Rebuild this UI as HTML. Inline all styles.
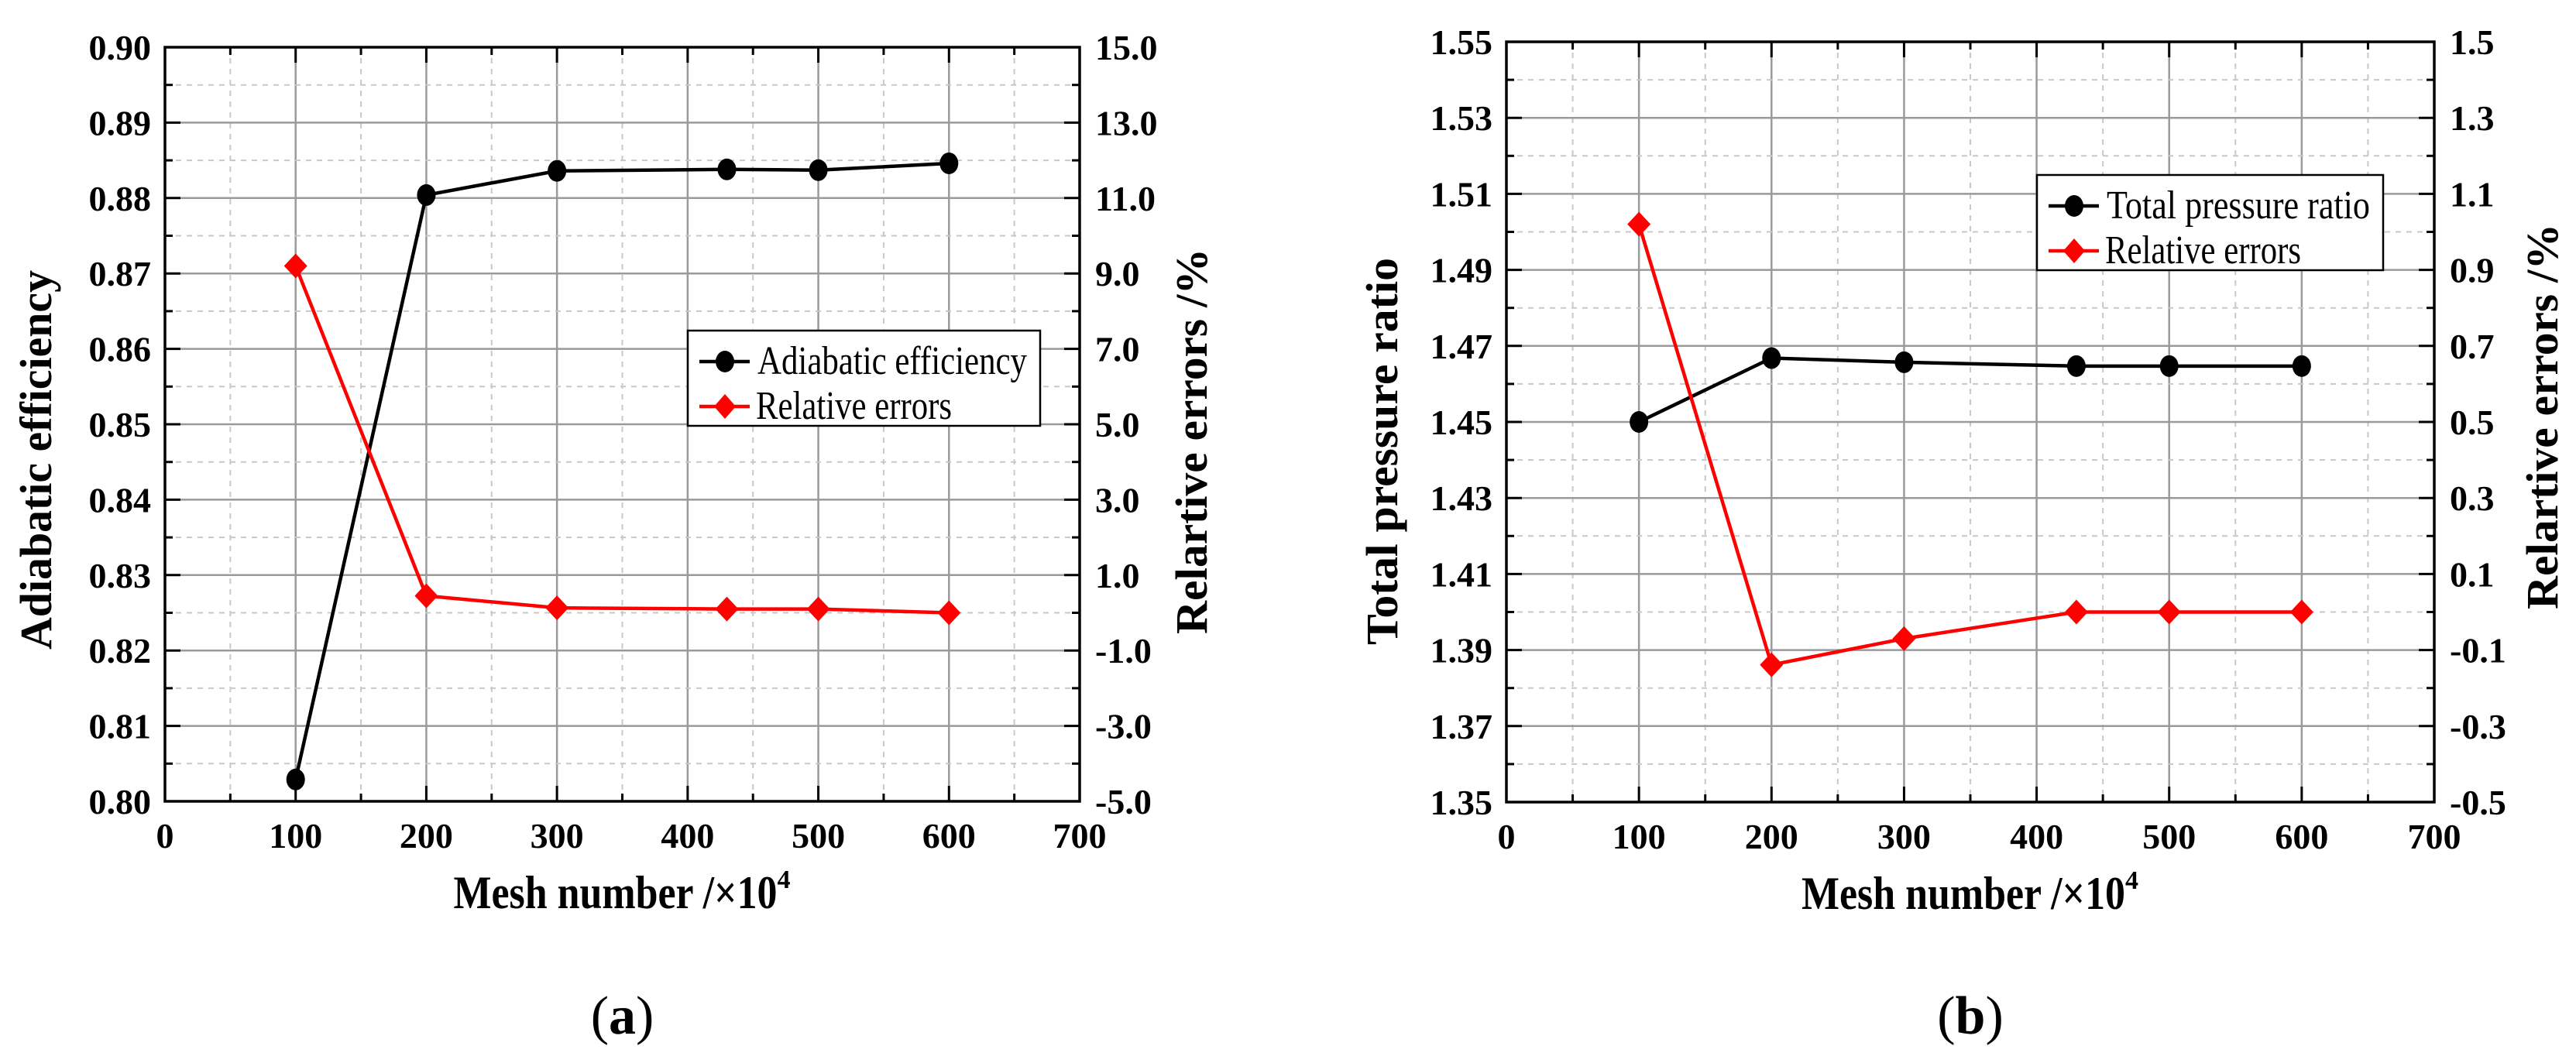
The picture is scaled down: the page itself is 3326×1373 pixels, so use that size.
<!DOCTYPE html>
<html><head><meta charset="utf-8">
<style>
html,body{margin:0;padding:0;background:#fff;}
svg{display:block;font-family:"Liberation Serif",serif;}
</style></head>
<body>
<svg id="fig" width="3326" height="1373" viewBox="0 0 3326 1373" xmlns="http://www.w3.org/2000/svg"></svg>
<script>
// ---- data (a) ----
const meshA = [100, 200, 300, 430, 500, 600];
const efficiencyA = [0.8029, 0.8804, 0.8836, 0.8838, 0.8837, 0.8846];
const errorsA = [9.2, 0.45, 0.13, 0.1, 0.1, 0.0];
const leftTicksA = ["0.80","0.81","0.82","0.83","0.84","0.85","0.86","0.87","0.88","0.89","0.90"];
const rightTicksA = ["-5.0","-3.0","-1.0","1.0","3.0","5.0","7.0","9.0","11.0","13.0","15.0"];
// ---- data (b) ----
const meshB = [100, 200, 300, 430, 500, 600];
const pressureB = [1.450, 1.4668, 1.4657, 1.4647, 1.4647, 1.4647];
const errorsB = [1.02, -0.139, -0.07, 0.0, 0.0, 0.0];
const leftTicksB = ["1.35","1.37","1.39","1.41","1.43","1.45","1.47","1.49","1.51","1.53","1.55"];
const rightTicksB = ["-0.5","-0.3","-0.1","0.1","0.3","0.5","0.7","0.9","1.1","1.3","1.5"];
const xTicks = ["0","100","200","300","400","500","600","700"];

const NS = "http://www.w3.org/2000/svg";
const svg = document.getElementById('fig');
function el(tag, attrs, parent, text){
  const e = document.createElementNS(NS, tag);
  for (const k in attrs) e.setAttribute(k, attrs[k]);
  if (text !== undefined) e.textContent = text;
  (parent || svg).appendChild(e);
  return e;
}

function drawChart(c){
  const g = el('g', {});
  
  
  const L=c.L, R=c.R, T=c.T, B=c.B;
  const xs = v => L + (v - 0) / 700 * (R - L);
  const yl = v => B - (v - c.lmin) / (c.lmax - c.lmin) * (B - T);
  const yr = v => B - (v - c.rmin) / (c.rmax - c.rmin) * (B - T);
  for (let i = 1; i < 14; i++){
    const x = L + i * (R - L) / 14;
    const ln = el('line', {x1:x, y1:T, x2:x, y2:B, stroke: i%2? '#c8c8c8':'#9a9a9a', 'stroke-width': i%2?2:2.5, 'stroke-dasharray': i%2?'7,7':'none'}, g);
    
    
  }
  for (let i = 1; i < 20; i++){
    const y = B - i * (B - T) / 20;
    const ln = el('line', {x1:L, y1:y, x2:R, y2:y, stroke: i%2? '#c8c8c8':'#9a9a9a', 'stroke-width': i%2?2:2.5, 'stroke-dasharray': i%2?'7,7':'none'}, g);
    
    
  }
  for (let i = 0; i <= 14; i++){
    const x = L + i * (R - L) / 14; const len = i%2?10:20;
    el('line', {x1:x, y1:B, x2:x, y2:B-len, stroke:'#000', 'stroke-width':3}, g);
    el('line', {x1:x, y1:T, x2:x, y2:T+len, stroke:'#000', 'stroke-width':3}, g);
  }
  for (let i = 0; i <= 20; i++){
    const y = B - i * (B - T) / 20; const len = i%2?10:20;
    el('line', {x1:L, y1:y, x2:L+len, y2:y, stroke:'#000', 'stroke-width':3}, g);
    el('line', {x1:R, y1:y, x2:R-len, y2:y, stroke:'#000', 'stroke-width':3}, g);
  }
  const frame = el('rect', {x:L, y:T, width:R-L, height:B-T, fill:'none', stroke:'#000', 'stroke-width':3.5}, g);
  
  
  xTicks.forEach((t, i) => {
    const tx = el('text', {x: xs(i*100), y: B+60, 'text-anchor':'middle', 'font-size':46, 'font-weight':'bold'}, g, t);
    
    
  });
  c.lt.forEach((t, i) => {
    const tx = el('text', {x: L-18, y: B - i*(B-T)/10 + 16, 'text-anchor':'end', 'font-size':46, 'font-weight':'bold'}, g, t);
    
    
  });
  c.rt.forEach((t, i) => {
    const tx = el('text', {x: R+20, y: B - i*(B-T)/10 + 16, 'text-anchor':'start', 'font-size':46, 'font-weight':'bold'}, g, t);
    
    
  });
  const cx = (L+R)/2;
  const xt = el('text', {x: cx - 218, y: c.B+138, 'font-size':60, 'font-weight':'bold'}, g);
  
  
  el('tspan', {textLength:418, lengthAdjust:'spacingAndGlyphs'}, xt, 'Mesh number /×10');
  el('tspan', {'font-size':34, dy:-26}, xt, '4');
  const lt = el('text', {x:0, y:0, transform:`translate(${c.ltx},${c.lty}) rotate(-90)`, 'text-anchor':'middle', 'font-size':58, 'font-weight':'bold', textLength:c.ltlen, lengthAdjust:'spacingAndGlyphs'}, g, c.ltitle);
  
  
  const rt = el('text', {x:0, y:0, transform:`translate(${c.rtx},${c.rty}) rotate(-90)`, 'text-anchor':'middle', 'font-size':58, 'font-weight':'bold', textLength:498, lengthAdjust:'spacingAndGlyphs'}, g, 'Relartive errors /%');
  
  
  const pl = el('text', {x: cx, y: 1335, 'text-anchor':'middle', 'font-size':70}, g);
  
  
  el('tspan', {}, pl, '(');
  el('tspan', {'font-weight':'bold'}, pl, c.panel);
  el('tspan', {}, pl, ')');
  const bp = c.x.map((v,i) => xs(v)+','+yl(c.main[i])).join(' ');
  const bl = el('polyline', {points: bp, fill:'none', stroke:'#000', 'stroke-width':4.5}, g);
  
  
  const rp = c.x.map((v,i) => xs(v)+','+yr(c.err[i])).join(' ');
  const rl = el('polyline', {points: rp, fill:'none', stroke:'#ff0000', 'stroke-width':4.5}, g);
  
  
  c.x.forEach((v,i) => {
    const m = el('ellipse', {cx: xs(v), cy: yl(c.main[i]), rx:12, ry:14, fill:'#000'}, g);
    
    
  });
  c.x.forEach((v,i) => {
    const X = xs(v), Y = yr(c.err[i]);
    const d = el('polygon', {points:`${X},${Y-16} ${X+15},${Y} ${X},${Y+16} ${X-15},${Y}`, fill:'#ff0000'}, g);
    
    
  });
  const lg = el('g', {}, g);
  
  
  const gx=c.lgx, gy=c.lgy, gw=c.lgw, gh=123;
  el('rect', {x:gx, y:gy, width:gw, height:gh, fill:'#fff', stroke:'#000', 'stroke-width':2.5}, lg);
  const y1 = gy+40, y2 = gy+98;
  el('line', {x1:gx+15, y1:y1, x2:gx+80, y2:y1, stroke:'#000', 'stroke-width':4.5}, lg);
  el('ellipse', {cx:gx+48, cy:y1, rx:12, ry:14, fill:'#000'}, lg);
  const t1 = el('text', {x:gx+90, y:y1+16, 'font-size':52, textLength:c.l1len, lengthAdjust:'spacingAndGlyphs'}, lg, c.lname);
  
  
  el('line', {x1:gx+15, y1:y2, x2:gx+80, y2:y2, stroke:'#ff0000', 'stroke-width':4.5}, lg);
  el('polygon', {points:`${gx+48},${y2-16} ${gx+62},${y2} ${gx+48},${y2+16} ${gx+34},${y2}`, fill:'#ff0000'}, lg);
  const t2 = el('text', {x:gx+88, y:y2+16, 'font-size':52, textLength:253, lengthAdjust:'spacingAndGlyphs'}, lg, 'Relative errors');
  
  
}

drawChart({name:'chart-a', panel:'a', L:213, R:1394, T:61, B:1035, lmin:0.80, lmax:0.90, rmin:-5, rmax:15,
  lt:leftTicksA, rt:rightTicksA, x:meshA, main:efficiencyA, err:errorsA,
  ltitle:'Adiabatic efficiency', ltlen:490, ltx:66, lty:594, rtx:1558, rty:570,
  lgx:888, lgy:427, lgw:455, lname:'Adiabatic efficiency', l1len:348});
drawChart({name:'chart-b', panel:'b', L:1945, R:3143, T:54, B:1036, lmin:1.35, lmax:1.55, rmin:-0.5, rmax:1.5,
  lt:leftTicksB, rt:rightTicksB, x:meshB, main:pressureB, err:errorsB,
  ltitle:'Total pressure ratio', ltlen:500, ltx:1804, lty:583, rtx:3302, rty:538,
  lgx:2630, lgy:226, lgw:447, lname:'Total pressure ratio', l1len:340});
</script>
</body></html>
